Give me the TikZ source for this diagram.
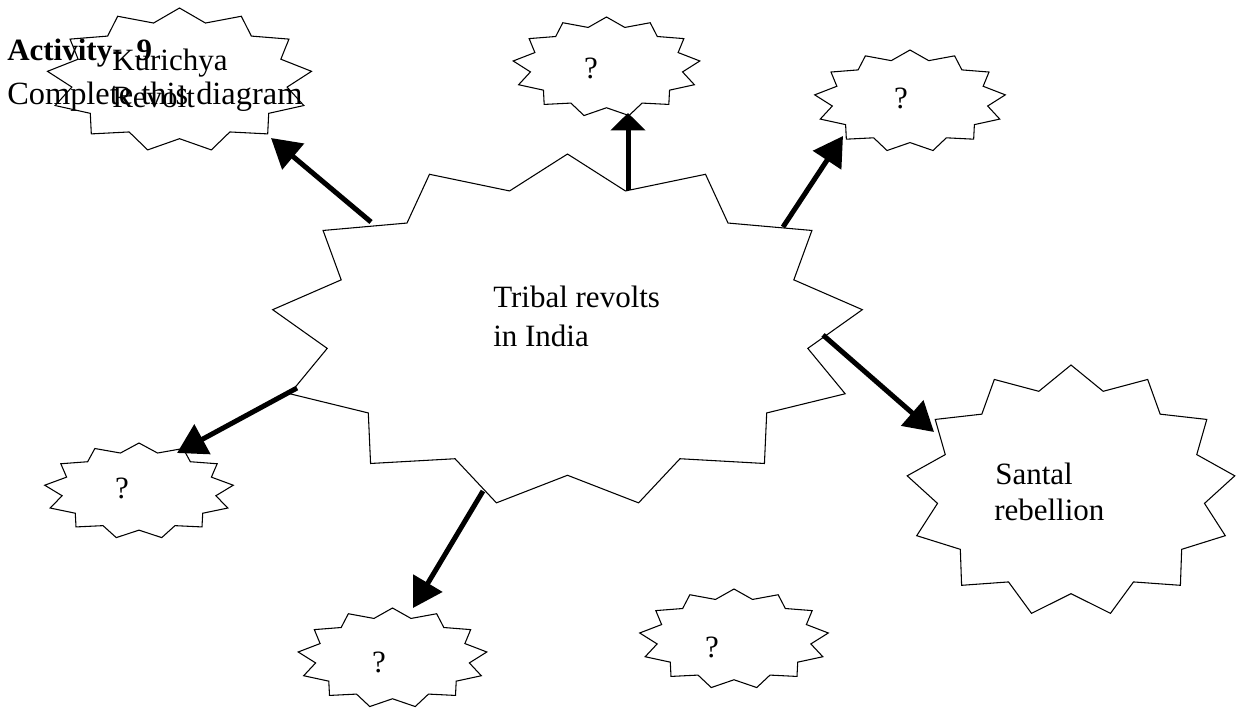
\documentclass[tikz,border=0pt]{standalone}
\usepackage{fontspec}
\setmainfont{Liberation Serif}
\usetikzlibrary{arrows.meta}

% 13-point starburst on an ellipse: name, centre x, centre y, x radius, y radius
\newcommand\burst[5]{%
  \coordinate (#1) at (#2,#3);
  \draw[burstline] plot[samples at={0,...,25}]
    ({#2+#4*(1-0.185*mod(\x,2))*cos(90-\x*360/26)},
     {#3-#5*(1-0.185*mod(\x,2))*sin(90-\x*360/26)}) -- cycle;
}

\tikzset{
  burstline/.style={line width=0.8pt, line join=miter},
  pointer/.style={line width=3.75pt, -{Triangle[length=21.75pt,width=24.75pt]}},
  shortpointer/.style={line width=3.75pt, -{Triangle[length=13pt,width=25.5pt]}},
  lbl/.style={inner sep=0pt, anchor=base west, font=\fontsize{23.25}{28}\selectfont},
  qmark/.style={inner sep=0pt, anchor=base, font=\fontsize{23.25}{28}\selectfont},
}

\begin{document}
\begin{tikzpicture}[x=0.75pt,y=-0.75pt]
\useasboundingbox (0,0) rectangle (1236,708);

% the bursts
\burst{centre}{567.5}{331}{297}{177}
\burst{kurichya}{179.5}{80}{133}{72}
\burst{topmid}{606.5}{67}{94}{50}
\burst{topright}{910}{101}{96}{51}
\burst{santal}{1071}{491}{165}{126}
\burst{lowleft}{139}{491}{95}{48}
\burst{lowmid}{392.5}{658}{95}{50}
\burst{lowright}{734}{639}{95}{50}

% heading
\node[lbl, font=\fontsize{23.25}{28}\selectfont\bfseries] (act) at (7,60) {Activity-\hspace{0.45em}9};
\node[lbl, font=\fontsize{24.3}{29}\selectfont] (task) at (7,104) {Complete this diagram};

% labels inside the bursts
\node[lbl] (kur1) at (112,70) {Kurichya};
\node[lbl] (kur2) at (112,107) {Revolt};
\node[lbl] (trib1) at (493,307) {Tribal revolts};
\node[lbl] (trib2) at (493,346) {in India};
\node[lbl] (san1) at (995,484) {Santal};
\node[lbl] (san2) at (994,520) {rebellion};
\node[qmark] (q1) at (591,78) {?};
\node[qmark] (q2) at (901,108) {?};
\node[qmark] (q3) at (122,498) {?};
\node[qmark] (q4) at (379,672) {?};
\node[qmark] (q5) at (712,657) {?};

% arrow ends on the central burst and next to the outer bursts
\coordinate (s1) at (371,222);  \coordinate (e1) at (271,138);
\coordinate (s2) at (628,190);  \coordinate (e2) at (628,113);
\coordinate (s3) at (783,227);  \coordinate (e3) at (843,136);
\coordinate (s4) at (823,335);  \coordinate (e4) at (934,432);
\coordinate (s5) at (297,388);  \coordinate (e5) at (177,453);
\coordinate (s6) at (483,491);  \coordinate (e6) at (413,608);

\draw[pointer] (s1) -- (e1);
\draw[shortpointer] (s2) -- (e2);
\draw[pointer] (s3) -- (e3);
\draw[pointer] (s4) -- (e4);
\draw[pointer] (s5) -- (e5);
\draw[pointer] (s6) -- (e6);
\end{tikzpicture}
\end{document}
